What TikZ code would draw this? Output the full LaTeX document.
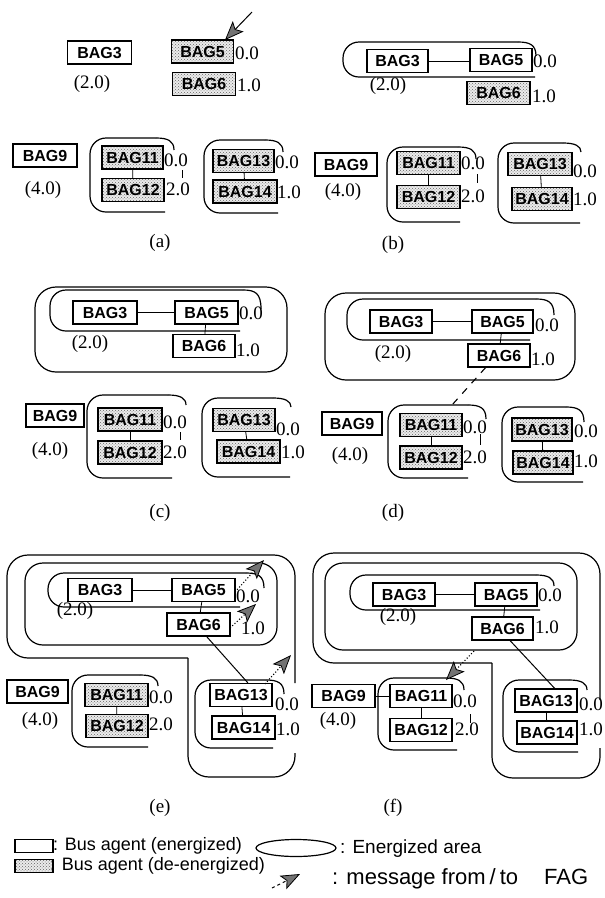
\documentclass[tikz,border=0pt]{standalone}
\usepackage{fontspec}
\setmainfont{Liberation Serif}
\newfontfamily\arialf{Liberation Sans}
\usetikzlibrary{arrows.meta,patterns,shapes.geometric}

\tikzset{
  bag/.style={draw, line width=1.1pt, minimum width=62pt, minimum height=23pt, inner sep=0pt,
              font=\arialf\bfseries\fontsize{16}{16}\selectfont},
  dead/.style={bag, preaction={fill=black!8}, pattern=crosshatch dots, pattern color=black!60},
  num/.style={font=\fontsize{19}{19}\selectfont, inner sep=0pt, anchor=west},
  lbl/.style={font=\fontsize{19}{19}\selectfont, inner sep=0pt},
  legtxt/.style={font=\arialf\fontsize{18}{18}\selectfont, inner sep=0pt, anchor=west},
  legtxtb/.style={font=\arialf\fontsize{19}{19}\selectfont, inner sep=0pt, anchor=west},
  legtxtc/.style={font=\arialf\fontsize{22}{22}\selectfont, inner sep=0pt, anchor=west},
  arc/.style={line width=1.2pt},
  area/.style={line width=1.2pt, rounded corners=16pt},
  bigarea/.style={line width=1.2pt, rounded corners=21pt},
  link/.style={line width=0.8pt},
  tickmark/.style={line width=1pt},
  msgtip/.style={-{Stealth[length=19pt,width=15pt,inset=4pt,fill=black!55,line width=0.8pt]}},
  msga/.style={line width=1pt, msgtip},
  msgd/.style={line width=1.1pt, dotted, msgtip},
  msgl/.style={line width=1pt, dashed, msgtip},
}

\newcommand\Cshape[6]{%
  \draw[arc] (#1,#2) .. controls (#1,{#3+3}) and ({#1-6},#3) .. ({#1-18},#3);
  \draw[area] ({#1-18},#3) -- (#4,#3) -- (#4,#5) -- (#6,#5);}
\newcommand\msgarrow[4]{\coordinate (#1s) at (#2); \coordinate (#1e) at (#3); \draw[#4] (#1s) -- (#1e);}

\begin{document}
\begin{tikzpicture}[x=1pt,y=-1pt]
\useasboundingbox (0,0) rectangle (605,898);
\fill[white] (0,0) rectangle (605,898);

% ================= (a)
\node[bag, minimum width=64pt] (a3) at (99.5,52.5) {BAG3};
\node[dead, minimum width=62pt] (a5) at (202.5,51.5) {BAG5};
\node[dead, minimum width=63pt] (a6) at (204,84) {BAG6};
\node[lbl] (a2l) at (92,84) {(2.0)};
\node[num] (a5l) at (235,53) {0.0};
\node[num] (a6l) at (237,85) {1.0};
\msgarrow{am}{252,12}{225,40}{msga}
\node[bag, minimum width=64pt] (a9) at (45,155.5) {BAG9};
\node[lbl] (a9l) at (43,190) {(4.0)};
\node[dead, minimum width=61pt] (a11) at (132.5,157.5) {BAG11};
\node[dead, minimum width=62pt] (a12) at (133,190) {BAG12};
\draw[link] (a11) -- (a12);
\node[num] (a11l) at (164,160) {0.0};
\node[num] (a12l) at (166,189) {2.0};
\draw[tickmark] (182,170) -- (182,178);
\Cshape{174}{150}{138}{90}{212}{165}
\node[dead, minimum width=61pt] (a13) at (243.5,161) {BAG13};
\node[dead, minimum width=64pt] (a14) at (245,191.5) {BAG14};
\draw[link] (a13) -- (a14);
\node[num] (a13l) at (275,162) {0.0};
\node[num] (a14l) at (277,192) {1.0};
\Cshape{283}{152}{140}{204}{213}{278}
\node[lbl] (capa) at (160,243) {(a)};

% ================= (b)
\node[bag, minimum width=61pt] (b3) at (397.5,61) {BAG3};
\node[bag, minimum width=62pt] (b5) at (501,60) {BAG5};
\draw[link] (b3) -- (b3 -| b5.west);
\node[dead, minimum width=63pt] (b6) at (498.5,93) {BAG6};
\node[num] (b5l) at (533,61) {0.0};
\node[num] (b6l) at (532,96) {1.0};
\node[lbl] (b2l) at (388,86) {(2.0)};
\Cshape{536}{56}{42}{343}{77}{535}
\node[bag, minimum width=62pt] (b9) at (346,164.5) {BAG9};
\node[lbl] (b9l) at (343,192) {(4.0)};
\node[dead, minimum width=63pt] (b11) at (428.5,163) {BAG11};
\node[dead, minimum width=63pt] (b12) at (428.5,197) {BAG12};
\draw[link] (b11) -- (b12);
\node[num] (b11l) at (461,163) {0.0};
\node[num] (b12l) at (461,196) {2.0};
\draw[tickmark] (477,174) -- (477,183);
\Cshape{476}{159}{147}{387}{222}{460}
\node[dead, minimum width=64pt] (b13) at (540,164) {BAG13};
\node[dead, minimum width=60pt] (b14) at (542,199) {BAG14};
\draw[link] (b13) -- (b14);
\node[num] (b13l) at (573,171) {0.0};
\node[num] (b14l) at (573,199) {1.0};
\Cshape{581}{152}{143}{498}{223}{580}
\node[lbl] (capb) at (393,245) {(b)};

% ================= (c)
\draw[bigarea] (35,287) rectangle (287,372);
\Cshape{261}{309}{290}{50}{331}{240}
\node[bag, minimum width=64pt] (c3) at (105,312.5) {BAG3};
\node[bag, minimum width=63pt] (c5) at (206.5,312.5) {BAG5};
\draw[link] (c3) -- (c5);
\node[bag, minimum width=62pt] (c6) at (204,346) {BAG6};
\draw[link] (c5) -- (c6);
\node[num] (c5l) at (239,313) {0.0};
\node[num] (c6l) at (236,350) {1.0};
\node[lbl] (c2l) at (90,344) {(2.0)};
\node[bag, minimum width=58pt] (c9) at (55,415.5) {BAG9};
\node[lbl] (c9l) at (50,451) {(4.0)};
\node[dead, minimum width=64pt] (c11) at (130,419.5) {BAG11};
\node[dead, minimum width=64pt] (c12) at (130,452.5) {BAG12};
\draw[link] (c11) -- (c12);
\node[num] (c11l) at (163,422) {0.0};
\node[num] (c12l) at (163,452) {2.0};
\draw[tickmark] (180,432) -- (180,440);
\Cshape{186}{405}{395}{87}{478}{172}
\node[dead, minimum width=62pt] (c13) at (244,420) {BAG13};
\node[dead, minimum width=63pt] (c14) at (248.5,451.5) {BAG14};
\draw[link] (c13) -- (c14);
\node[num] (c13l) at (276,429) {0.0};
\node[num] (c14l) at (281,452) {1.0};
\Cshape{291}{407}{398}{202}{477}{290}
\node[lbl] (capc) at (160,513) {(c)};

% ================= (d)
\draw[bigarea] (325,293) rectangle (575,380);
\Cshape{554}{315}{299}{347}{340}{530}
\node[bag, minimum width=62pt] (d3) at (401,321.5) {BAG3};
\node[bag, minimum width=61pt] (d5) at (502.5,321.5) {BAG5};
\draw[link] (d3) -- (d5);
\node[bag, minimum width=62pt] (d6) at (499,355.5) {BAG6};
\draw[link] (d5) -- (d6);
\node[num] (d5l) at (535,325) {0.0};
\node[num] (d6l) at (531,359) {1.0};
\node[lbl] (d2l) at (393,354) {(2.0)};
\coordinate (dend) at (452,405);
\draw[line width=1.1pt, dash pattern=on 7pt off 7pt] (d6.222) -- (dend);
\node[bag, minimum width=60pt] (d9) at (352,423.5) {BAG9};
\node[lbl] (d9l) at (350,456) {(4.0)};
\node[dead, minimum width=62pt] (d11) at (431,425) {BAG11};
\node[dead, minimum width=62pt] (d12) at (431,457.5) {BAG12};
\draw[link] (d11) -- (d12);
\node[num] (d11l) at (463,427) {0.0};
\node[num] (d12l) at (463,457) {2.0};
\draw[tickmark] (480,434) -- (480,445);
\Cshape{486}{419}{405}{388}{478}{468}
\node[dead, minimum width=60pt] (d13) at (542,429.5) {BAG13};
\node[dead, minimum width=60pt] (d14) at (543,462.5) {BAG14};
\draw[link] (d13) -- (d14);
\node[num] (d13l) at (574,431) {0.0};
\node[num] (d14l) at (574,461) {1.0};
\Cshape{584}{422}{407}{502}{482}{583}
\node[lbl] (capd) at (393,513) {(d)};

% ================= (e)
\draw[bigarea] (295,683) -- (295,555) -- (7,555) -- (7,658) -- (188,658);
\draw[bigarea] (188,658) -- (188,777) -- (295,777) -- (295,753);
\draw[bigarea, rounded corners=18pt] (25,563) rectangle (277,645);
\Cshape{264}{588}{573}{48}{607}{240}
\node[bag, minimum width=64pt] (e3) at (100,590) {BAG3};
\node[bag, minimum width=63pt] (e5) at (203.5,590) {BAG5};
\draw[link] (e3) -- (e5);
\node[bag, minimum width=63pt] (e6) at (198.5,624.5) {BAG6};
\draw[link] (e5) -- (e6);
\node[num] (e5l) at (236,596) {0.0};
\node[num] (e6l) at (241,628) {1.0};
\node[lbl] (e2l) at (75,611) {(2.0)};
\msgarrow{em1}{235,592}{264,560}{msgd}
\msgarrow{em2}{230,628}{256,604}{msgd}
\node[bag, minimum width=61pt] (e9) at (37.5,691.5) {BAG9};
\node[lbl] (e9l) at (40,721) {(4.0)};
\node[dead, minimum width=63pt] (e11) at (116.5,695) {BAG11};
\node[dead, minimum width=62pt] (e12) at (117,726) {BAG12};
\draw[link] (e11) -- (e12);
\node[num] (e11l) at (149,697) {0.0};
\node[num] (e12l) at (149,724) {2.0};
\Cshape{158}{686}{675}{72}{747}{148}
\node[bag, minimum width=62pt] (e13) at (241,695) {BAG13};
\node[bag, minimum width=63pt] (e14) at (243.5,727.5) {BAG14};
\draw[link] (e13) -- (e14);
\node[num] (e13l) at (275,704) {0.0};
\node[num] (e14l) at (276,729) {1.0};
\Cshape{284}{694}{680}{195}{748}{273}
\draw[link, line width=1pt] (e6.304) -- (e13.60);
\msgarrow{em3}{265,684}{291,655}{msgd}
\node[lbl] (cape) at (160,808) {(e)};

% ================= (f)
\draw[bigarea] (600,700) -- (600,553) -- (313,553) -- (313,663) -- (492,663);
\draw[bigarea] (492,663) -- (492,778) -- (600,778) -- (600,748);
\draw[bigarea, rounded corners=18pt] (325,563) rectangle (577,650);
\Cshape{554}{586}{575}{350}{610}{540}
\node[bag, minimum width=62pt] (f3) at (404,594.5) {BAG3};
\node[bag, minimum width=62pt] (f5) at (506,594.5) {BAG5};
\draw[link] (f3) -- (f5);
\node[bag, minimum width=61pt] (f6) at (502.5,628.5) {BAG6};
\draw[link] (f5) -- (f6);
\node[num] (f5l) at (538,595) {0.0};
\node[num] (f6l) at (535,627) {1.0};
\node[lbl] (f2l) at (398,617) {(2.0)};
\node[bag, minimum width=63pt] (f9) at (343.5,696) {BAG9};
\node[lbl] (f9l) at (338,721) {(4.0)};
\node[bag, minimum width=62pt] (f11) at (421,696) {BAG11};
\node[bag, minimum width=62pt] (f12) at (421,730) {BAG12};
\draw[link] (f9) -- (f11);
\draw[link] (f11) -- (f12);
\node[num] (f11l) at (453,701) {0.0};
\node[num] (f12l) at (455,729) {2.0};
\draw[tickmark] (470,714) -- (470,723);
\Cshape{464}{690}{678}{378}{750}{457}
\node[bag, minimum width=62pt] (f13) at (546,700.5) {BAG13};
\node[bag, minimum width=60pt] (f14) at (547,732.5) {BAG14};
\draw[link] (f13) -- (f14);
\node[num] (f13l) at (579,704) {0.0};
\node[num] (f14l) at (579,729) {1.0};
\Cshape{587}{690}{680}{503}{752}{578}
\draw[link, line width=1pt] (f6.302) -- (f13.54);
\msgarrow{fm}{474,651}{446,680}{msgd}
\node[lbl] (capf) at (393,808) {(f)};

% ================= legend
\node[bag, minimum width=38pt, minimum height=13pt] (lg1) at (34,846) {};
\node[legtxt] (lg1t) at (53,846) {: Bus agent (energized)};
\node[dead, minimum width=38pt, minimum height=13pt] (lg2) at (34,866) {};
\node[legtxt] (lg2t) at (50,866) {: Bus agent (de-energized)};
\node[draw, ellipse, line width=1.2pt, minimum width=80pt, minimum height=17pt, inner sep=0pt] (lg3) at (296,848) {};
\node[legtxtb] (lg3t) at (340,849) {: Energized area};
\msgarrow{lm}{272,888}{300,874}{msgl}
\node[legtxtc] (lg4t) at (332,879) {: message\hspace{6pt}from\hspace{4pt}/\hspace{4pt}to\hspace{26pt}FAG};
\end{tikzpicture}
\end{document}
